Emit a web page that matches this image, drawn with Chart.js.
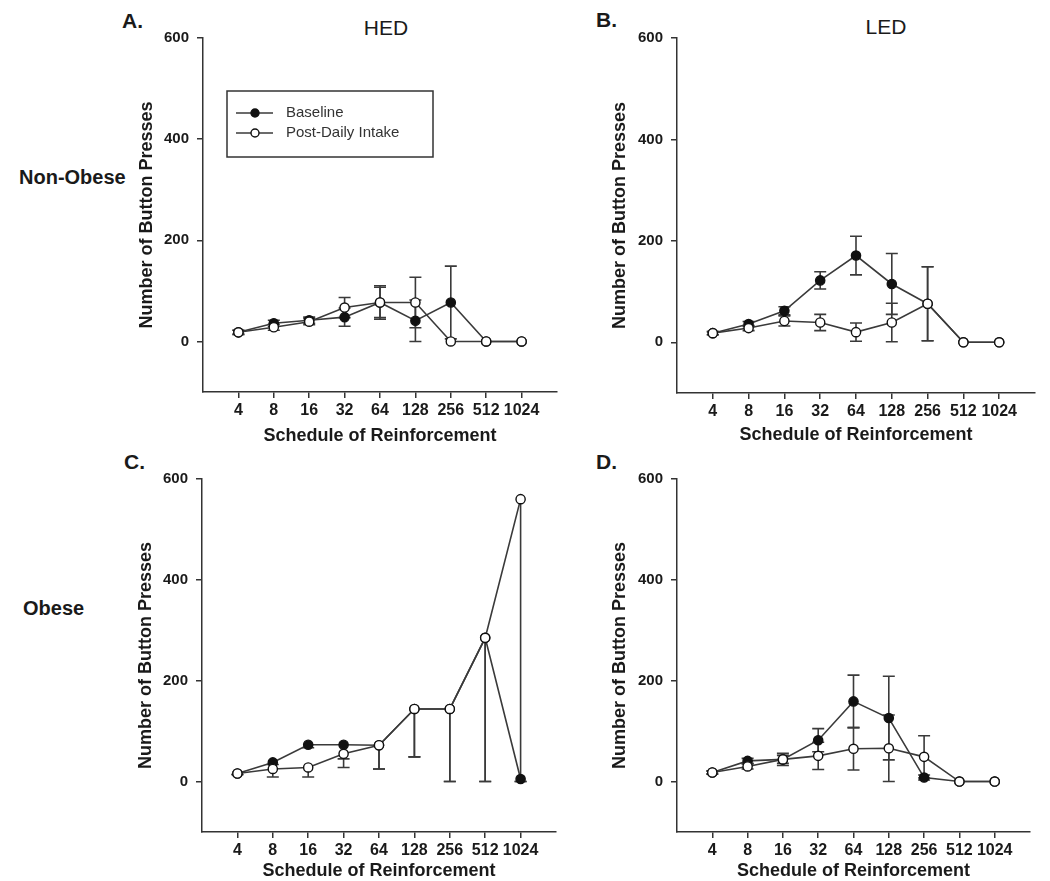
<!DOCTYPE html>
<html>
<head>
<meta charset="utf-8">
<script src="https://cdn.jsdelivr.net/npm/chart.js@4"></script>
<style>
  body { margin: 0; background: #fff; width: 1050px; height: 881px; overflow: hidden; position: relative; font-family: "Liberation Sans", Arial, sans-serif; color: #1a1a1a; }
  canvas { position: absolute; }
  .lbl { position: absolute; white-space: nowrap; transform: translateY(-50%); }
  .panel { font-weight: bold; font-size: 21px; }
  .diet { font-size: 21px; transform: translate(-50%, -50%); }
  .group { font-weight: bold; font-size: 20px; }
</style>
</head>
<body>
<div class="lbl panel" style="left:122px;top:21px">A.</div>
<div class="lbl panel" style="left:596px;top:20px">B.</div>
<div class="lbl panel" style="left:124px;top:462px">C.</div>
<div class="lbl panel" style="left:596px;top:462px">D.</div>
<div class="lbl diet" style="left:386px;top:28px">HED</div>
<div class="lbl diet" style="left:886px;top:27px">LED</div>
<div class="lbl group" style="left:19px;top:177px">Non-Obese</div>
<div class="lbl group" style="left:23px;top:608px">Obese</div>

<canvas id="chartA"></canvas>
<canvas id="chartB"></canvas>
<canvas id="chartC"></canvas>
<canvas id="chartD"></canvas>

<script>
// schedules of reinforcement (x axis) and y tick values
const schedules = [4, 8, 16, 32, 64, 128, 256, 512, 1024];
const yTicks = [0, 200, 400, 600];

// A. HED, non-obese
const hedNonBase = [18, 36, 42, 48, 77, 41, 77, 0, 0];
const hedNonBaseErr = [4, 6, 6, 18, 33, 41, 72, 0, 0];
const hedNonPost = [18, 28, 39, 67, 77, 77, 0, 0, 0];
const hedNonPostErr = [4, 6, 6, 20, 30, 50, 0, 0, 0];

// B. LED, non-obese
const ledNonBase = [18, 36, 62, 122, 171, 115, 76, 0, 0];
const ledNonBaseErr = [3, 5, 8, 17, 38, 60, 73, 0, 0];
const ledNonPost = [18, 28, 42, 39, 20, 39, 76, 0, 0];
const ledNonPostErr = [3, 5, 10, 16, 18, 38, 73, 0, 0];

// C. HED, obese (only lower error bars shown)
const hedObBase = [16, 38, 73, 73, 72, 144, 144, 285, 5];
const hedObBaseErr = [2, 4, 6, 28, 47, 95, 144, 285, 5];
const hedObPost = [16, 25, 28, 55, 72, 144, 144, 285, 560];
const hedObPostErr = [2, 16, 19, 27, 47, 95, 144, 285, 560];

// D. LED, obese
const ledObBase = [18, 41, 44, 82, 159, 126, 8, 0, 0];
const ledObBaseErr = [3, 5, 8, 23, 52, 83, 5, 0, 0];
const ledObPost = [18, 30, 44, 51, 65, 66, 49, 0, 0];
const ledObPostErr = [3, 5, 12, 27, 42, 66, 42, 0, 0];

const FONT = '"Liberation Sans", Arial, sans-serif';
const INK = '#1a1a1a';
const LINE = '#3a3a3a';

Chart.defaults.font.family = FONT;
Chart.defaults.color = INK;

// error bars, drawn under the lines and markers
const errorBars = {
    id: 'errorBars',
    beforeDatasetsDraw(chart) {
        const ctx = chart.ctx;
        const xs = chart.scales.x, ys = chart.scales.y;
        ctx.save();
        ctx.strokeStyle = LINE;
        ctx.lineWidth = 1.6;
        chart.data.datasets.forEach(ds => {
            ds.data.forEach((p, i) => {
                const e = ds.errors[i];
                if (!e) return;
                const px = xs.getPixelForValue(p.x);
                const yTop = ys.getPixelForValue(ds.lowerOnly ? p.y : p.y + e);
                const yBot = ys.getPixelForValue(p.y - e);
                ctx.beginPath();
                ctx.moveTo(px, yTop);
                ctx.lineTo(px, yBot);
                ctx.moveTo(px - 6, yBot);
                ctx.lineTo(px + 6, yBot);
                if (!ds.lowerOnly) {
                    ctx.moveTo(px - 6, yTop);
                    ctx.lineTo(px + 6, yTop);
                }
                ctx.stroke();
            });
        });
        ctx.restore();
    }
};

// boxed legend (panel A only)
const boxLegend = {
    id: 'boxLegend',
    afterDraw(chart, args, o) {
        if (!o.show) return;
        const ctx = chart.ctx, a = chart.chartArea;
        const x = a.left + 24, y = a.top + 53, w = 206, h = 66;
        ctx.save();
        ctx.strokeStyle = '#333';
        ctx.lineWidth = 1.5;
        ctx.strokeRect(x, y, w, h);
        const rows = chart.data.datasets.slice().sort((p, q) => q.order - p.order);
        rows.forEach((ds, i) => {
            const ry = y + 22 + i * 20;
            ctx.strokeStyle = LINE;
            ctx.lineWidth = 1.6;
            ctx.beginPath();
            ctx.moveTo(x + 9, ry);
            ctx.lineTo(x + 46, ry);
            ctx.stroke();
            ctx.beginPath();
            ctx.arc(x + 28, ry, 4, 0, Math.PI * 2);
            ctx.fillStyle = ds.pointBackgroundColor;
            ctx.fill();
            ctx.strokeStyle = '#111';
            ctx.lineWidth = 1.4;
            ctx.stroke();
            ctx.fillStyle = '#333';
            ctx.font = '15px ' + FONT;
            ctx.textBaseline = 'middle';
            ctx.fillText(ds.label, x + 59, ry);
        });
        ctx.restore();
    }
};

function series(label, vals, errs, fill, order, lowerOnly) {
    return {
        label: label,
        data: schedules.map((s, i) => ({ x: s, y: vals[i] })),
        errors: errs,
        lowerOnly: lowerOnly,
        order: order,
        borderColor: LINE,
        borderWidth: 1.6,
        pointRadius: 4.6,
        pointHoverRadius: 4.6,
        pointBorderWidth: 1.4,
        pointBorderColor: '#111',
        pointBackgroundColor: fill,
        tension: 0
    };
}

// box = canvas rect on the page, area = wanted plot rect on the page
function makePanel(id, box, area, base, baseErr, post, postErr, extra) {
    const cv = document.getElementById(id);
    cv.width = box.w; cv.height = box.h;
    cv.style.left = box.x + 'px'; cv.style.top = box.y + 'px';
    const yTitleSize = 18, xTitleSize = 18;
    const yPad = extra.yTitleX - box.x - yTitleSize * 0.6;
    const xPad = box.y + box.h - extra.xTitleY - xTitleSize * 0.6;
    const axisCol = '#333';

    new Chart(cv, {
        type: 'line',
        data: {
            datasets: [
                series('Baseline', base, baseErr, '#111', 2, extra.lowerOnly),
                series('Post-Daily Intake', post, postErr, '#fff', 1, extra.lowerOnly)
            ]
        },
        options: {
            responsive: false,
            animation: false,
            devicePixelRatio: 1,
            layout: { padding: { left: 0, top: area.t - box.y, right: box.x + box.w - area.r, bottom: 0 } },
            plugins: {
                legend: { display: false },
                tooltip: { enabled: false },
                boxLegend: { show: !!extra.legend }
            },
            scales: {
                x: {
                    type: 'logarithmic',
                    min: 2, max: 2048,
                    afterBuildTicks: s => { s.ticks = schedules.map(v => ({ value: v })); },
                    afterFit: s => { s.height = box.y + box.h - area.b; },
                    ticks: {
                        autoSkip: false, maxRotation: 0, minRotation: 0, padding: 3,
                        font: { size: 16, weight: 'bold' }, color: INK,
                        callback: v => String(v)
                    },
                    grid: { drawOnChartArea: false, drawTicks: true, tickLength: 6, color: axisCol, lineWidth: 1.5 },
                    border: { display: true, color: axisCol, width: 1.5 },
                    title: {
                        display: true, text: 'Schedule of Reinforcement', color: INK,
                        font: { size: xTitleSize, weight: 'bold' }, padding: { top: 0, bottom: xPad }
                    }
                },
                y: {
                    min: -100, max: 600,
                    afterBuildTicks: s => { s.ticks = yTicks.map(v => ({ value: v })); },
                    afterFit: s => { s.width = area.l - box.x; },
                    ticks: { padding: 8, font: { size: 15, weight: 'bold' }, color: INK },
                    grid: { drawOnChartArea: false, drawTicks: true, tickLength: 6, color: axisCol, lineWidth: 1.5 },
                    border: { display: true, color: axisCol, width: 1.5 },
                    title: {
                        display: true, text: 'Number of Button Presses', color: INK,
                        font: { size: yTitleSize, weight: 'bold' }, padding: { top: yPad, bottom: 0 }
                    }
                }
            }
        },
        plugins: [errorBars, boxLegend]
    });
}

makePanel('chartA', { x: 110, y: 10, w: 460, h: 450 }, { l: 203, t: 38, r: 557, b: 392 },
    hedNonBase, hedNonBaseErr, hedNonPost, hedNonPostErr, { yTitleX: 147, xTitleY: 436, legend: true });
makePanel('chartB', { x: 585, y: 10, w: 460, h: 450 }, { l: 677, t: 38, r: 1035, b: 393 },
    ledNonBase, ledNonBaseErr, ledNonPost, ledNonPostErr, { yTitleX: 620, xTitleY: 435 });
makePanel('chartC', { x: 110, y: 451, w: 460, h: 430 }, { l: 202, t: 479, r: 556, b: 832 },
    hedObBase, hedObBaseErr, hedObPost, hedObPostErr, { yTitleX: 146, xTitleY: 871, lowerOnly: true });
makePanel('chartD', { x: 585, y: 451, w: 460, h: 430 }, { l: 677, t: 479, r: 1030, b: 832 },
    ledObBase, ledObBaseErr, ledObPost, ledObPostErr, { yTitleX: 620, xTitleY: 871 });
</script>
</body>
</html>
